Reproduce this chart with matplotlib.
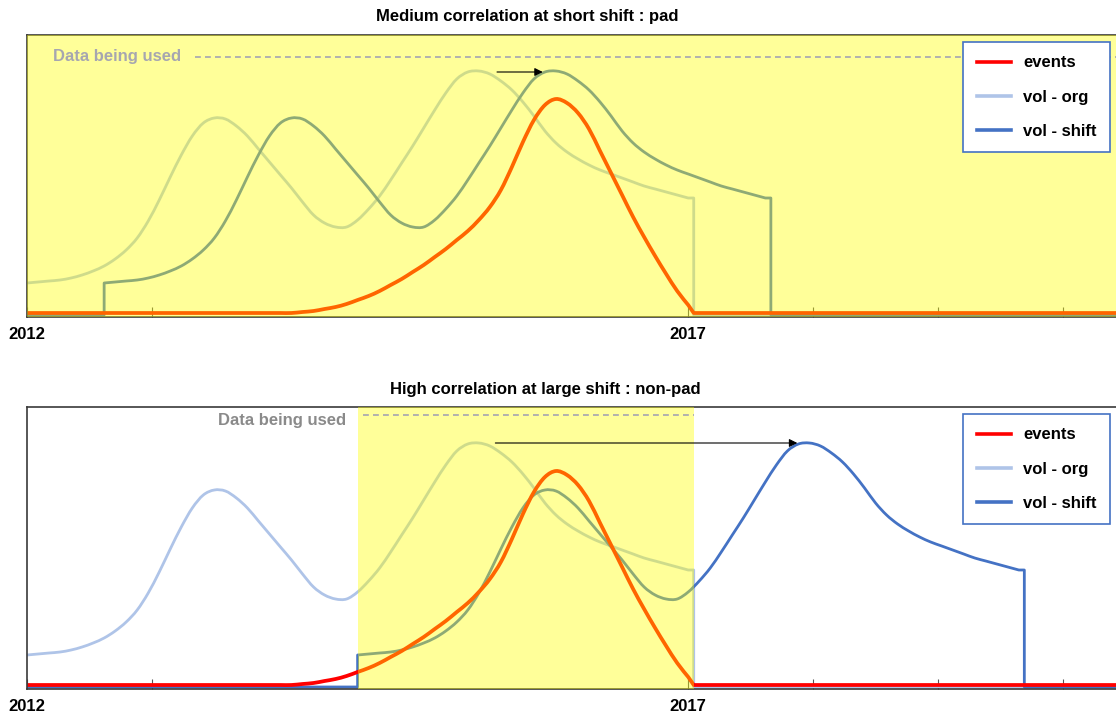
import numpy as np
import matplotlib
matplotlib.use("Agg")
import matplotlib.pyplot as plt
from matplotlib.lines import Line2D
from matplotlib.path import Path
from matplotlib.patches import PathPatch

plt.rcParams['font.family'] = ['Liberation Sans', 'DejaVu Sans']
plt.rcParams['font.weight'] = 'bold'

# Monthly values, Jan 2012 (month 0) .. Jan 2017 (month 60)
vol_org = [32, 33, 34, 35, 37, 40, 44, 49, 56, 65,
           77, 94, 115, 138, 160, 179, 192, 197, 196, 189,
           179, 166, 153, 140, 127, 113, 100, 92, 88, 88,
           95, 106, 119, 135, 152, 169, 187, 205, 222, 236,
           243, 244, 241, 234, 225, 213, 199, 184, 172, 163,
           156, 150, 145, 141, 137, 133, 129, 126, 123, 120,
           117]

events = [2, 2, 2, 2, 2, 2, 2, 2, 2, 2,
          2, 2, 2, 2, 2, 2, 2, 2, 2, 2,
          2, 2, 2, 2, 2, 3, 4, 6, 8, 11,
          15, 19, 24, 30, 36, 43, 50, 58, 66, 75,
          84, 95, 108, 125, 148, 173, 195, 210, 216, 212,
          202, 186, 164, 142, 120, 98, 78, 59, 41, 24,
          10]

event_floor = 2          # level of the events series after it ends
series_end = 60.5        # month where the original series stops
x_max = 99               # right edge of the time axis (months)
short_shift = 7          # lag in months, padded case
large_shift = 30         # lag in months, non-padded case

tick_months = [0, 11.35, 60, 71.35, 82.7, 94.05]
tick_labels = ['2012', '', '2017', '', '', '']

legend_labels = ['events', 'vol - org', 'vol - shift']
titles = ['Medium correlation at short shift : pad',
          'High correlation at large shift : non-pad']

C_EVENTS = '#FF0000'
C_ORG = '#AFC4E8'
C_SHIFT = '#4472C4'
C_FRAME = '#3a3a3a'

months = list(range(len(vol_org)))


def smooth_segment(xs, ys):
    """Bezier pieces through the points (Catmull-Rom tangents), no MOVETO."""
    pts = list(zip(xs, ys))
    n = len(pts)
    verts, codes = [], []
    for i in range(n - 1):
        p0 = pts[i - 1] if i > 0 else pts[i]
        p1, p2 = pts[i], pts[i + 1]
        p3 = pts[i + 2] if i + 2 < n else pts[i + 1]
        c1 = (p1[0] + (p2[0] - p0[0]) / 6, p1[1] + (p2[1] - p0[1]) / 6)
        c2 = (p2[0] - (p3[0] - p1[0]) / 6, p2[1] - (p3[1] - p1[1]) / 6)
        verts += [c1, c2, p2]
        codes += [Path.CURVE4] * 3
    return verts, codes


def series_path(lead, xs, ys, tail):
    """Straight lead-in points, smooth data run, straight tail points."""
    verts, codes = [], []
    for p in lead:
        verts.append(p)
        codes.append(Path.MOVETO if not codes else Path.LINETO)
    verts.append((xs[0], ys[0]))
    codes.append(Path.MOVETO if not codes else Path.LINETO)
    v, c = smooth_segment(xs, ys)
    verts += v
    codes += c
    for p in tail:
        verts.append(p)
        codes.append(Path.LINETO)
    return Path(verts, codes)


def add_series(ax, path, color, lw, z):
    ax.add_patch(PathPatch(path, fill=False, edgecolor=color, lw=lw,
                           joinstyle='round', capstyle='butt', zorder=z))


fig = plt.figure(figsize=(11.16, 7.14), dpi=100)
W, H = 1116.0, 714.0
ax_top = fig.add_axes([27 / W, 1 - 317 / H, 1091 / W, 282 / H])
ax_bot = fig.add_axes([27 / W, 1 - 689 / H, 1091 / W, 282 / H])


def draw_panel(ax, lag, span, title, title_x, title_y, note_x, note_ha, note_color,
               dash_from, dash_to, dash_y, note_y, arrow_from, arrow_to, arrow_y):
    ax.set_xlim(0, x_max)
    ax.set_ylim(-2, 280)

    org = series_path([], months, vol_org,
                      [(series_end, vol_org[-1]), (series_end, 0), (x_max, 0)])
    shifted = series_path([(0, 0), (lag, 0)], [m + lag for m in months], vol_org,
                          [(series_end + lag, vol_org[-1]), (series_end + lag, 0), (x_max, 0)])
    ev = series_path([], months, events,
                     [(series_end, event_floor), (x_max, event_floor)])
    add_series(ax, org, C_ORG, 2.0, 2)
    add_series(ax, shifted, C_SHIFT, 2.0, 2.1)
    add_series(ax, ev, C_EVENTS, 2.7, 2.5)

    # window of data in use
    ax.axvspan(span[0], span[1], color='#FFFF00', alpha=0.4, lw=0, zorder=3)

    ax.plot([dash_from, dash_to], [dash_y, dash_y], ls=(0, (3.5, 2.5)),
            color='#A4A4B2', lw=1.2, zorder=4)
    ax.text(note_x, note_y, 'Data being used', ha=note_ha, va='center',
            color=note_color, fontsize=12, fontweight='bold', zorder=4)

    ax.annotate('', xy=(arrow_to, arrow_y), xytext=(arrow_from, arrow_y),
                arrowprops=dict(arrowstyle='-|>', color='black', lw=0.8,
                                mutation_scale=12, shrinkA=0, shrinkB=0),
                zorder=4)

    fig.text(title_x / W, 1 - title_y / H, title, ha='center', va='center',
             fontsize=12, fontweight='bold')

    ax.set_xticks(tick_months)
    ax.set_xticklabels(tick_labels, fontsize=12, fontweight='bold')
    ax.tick_params(axis='x', direction='in', length=7, width=0.8,
                   color='#555555', pad=7)
    ax.set_yticks([])
    for s in ax.spines.values():
        s.set_color(C_FRAME)
        s.set_linewidth(1.2)

    handles = [Line2D([], [], color=C_EVENTS, lw=2.6),
               Line2D([], [], color=C_ORG, lw=2.6),
               Line2D([], [], color=C_SHIFT, lw=2.6)]
    leg = ax.legend(handles, legend_labels, loc='upper right',
                    bbox_to_anchor=(0.9927, 0.975), borderaxespad=0,
                    prop={'size': 12, 'weight': 'bold'},
                    handlelength=2.05, handletextpad=0.75, labelspacing=1.15,
                    borderpad=0.8, fancybox=False, framealpha=1, facecolor='white',
                    edgecolor=C_SHIFT)
    leg.get_frame().set_linewidth(1.2)
    leg.set_zorder(6)


draw_panel(ax_top, short_shift, (0, x_max), titles[0], 527, 17,
           note_x=2.35, note_ha='left', note_color='#A6A6B0',
           dash_from=15.2, dash_to=x_max, dash_y=258, note_y=258,
           arrow_from=42.65, arrow_to=46.8, arrow_y=243)

draw_panel(ax_bot, large_shift, (large_shift, series_end), titles[1], 545, 390,
           note_x=29.0, note_ha='right', note_color='#8A8A8A',
           dash_from=30.5, dash_to=series_end, dash_y=272, note_y=266,
           arrow_from=42.5, arrow_to=69.9, arrow_y=244)

fig.savefig('out.png', dpi=100)
